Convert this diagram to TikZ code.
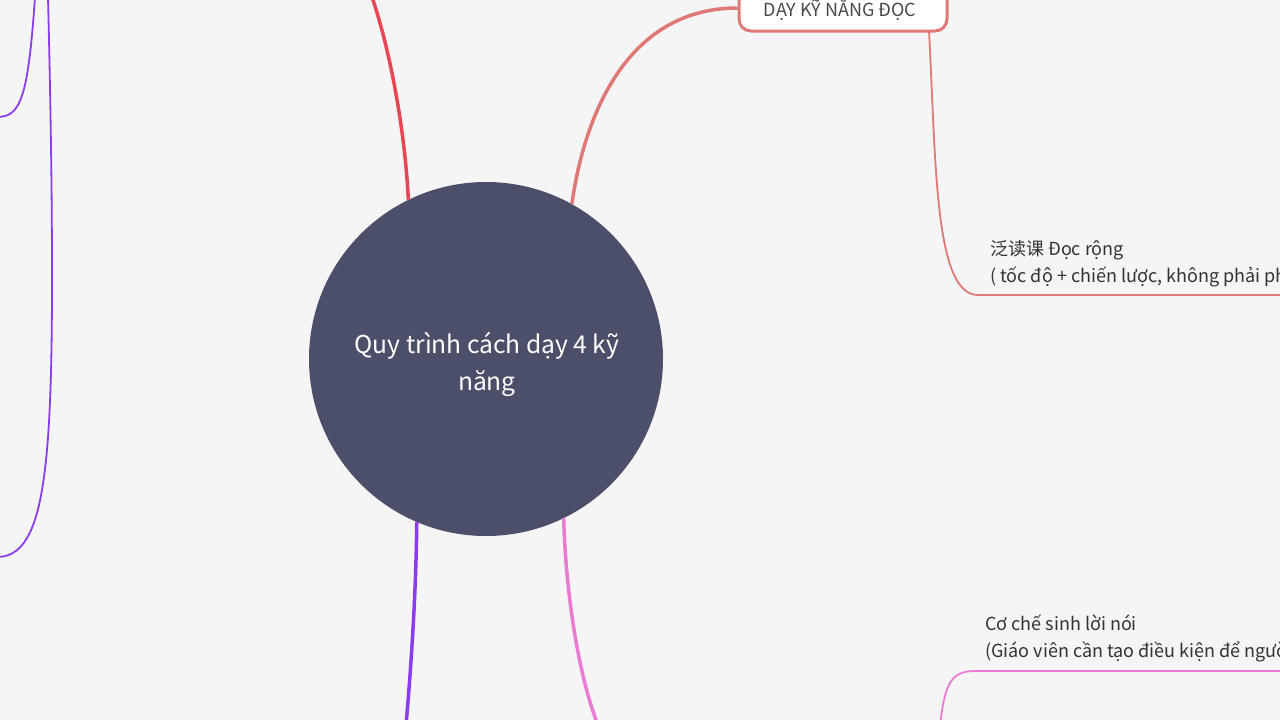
\documentclass[tikz,border=0pt]{standalone}
\usepackage{fontspec}
\setmainfont{Noto Sans CJK SC}
\definecolor{bg}{RGB}{245,245,245}
\definecolor{hubc}{RGB}{75,79,106}
\definecolor{salmon}{RGB}{224,120,120}
\definecolor{redc}{RGB}{232,70,85}
\definecolor{purp}{RGB}{140,60,240}
\definecolor{pinkc}{RGB}{235,122,210}
\definecolor{txt}{RGB}{51,51,51}
\definecolor{txtb}{RGB}{72,72,72}
\tikzset{
  hubnode/.style={circle, fill=hubc, minimum size=354pt, inner sep=0pt},
  hubtext/.style={text=white, align=center, inner sep=0pt, font=\fontsize{24.6}{37}\selectfont},
  topicnode/.style={draw=salmon, line width=3pt, fill=white, rounded corners=12pt, minimum width=208pt, minimum height=46pt, inner sep=0pt},
  topictext/.style={inner sep=0pt, text=txtb, font=\fontsize{18}{24}\selectfont},
  labelnode/.style={inner sep=0pt, align=left, text=txt, font=\fontsize{18}{27}\selectfont},
  mainbranch/.style={line width=3.5pt},
  thinbranch/.style={line width=1.8pt},
}
\begin{document}
\begin{tikzpicture}[x=1pt,y=-1pt]
\useasboundingbox (0,0) rectangle (1280,720);
\fill[bg] (0,0) rectangle (1280,720);
\begin{scope}
\clip (0,0) rectangle (1280,720);
% left purple sub-branches
\coordinate (la1) at (35,-3);
\coordinate (la2) at (-3,117);
\coordinate (lb1) at (48,-3);
\coordinate (lb2) at (52,280);
\coordinate (lb3) at (-3,557);
\draw[purp, thinbranch] (la1) .. controls (28,100) and (20,117) .. (la2);
\draw[purp, thinbranch] (lb1) .. controls (51,120) and (52,200) .. (lb2) .. controls (52,480) and (42,557) .. (lb3);

% hub
\node[hubnode] (hub) at (486,359) {};
\node[hubtext] (hublabel) at (487,364) {Quy trình cách dạy 4 kỹ\\năng};

% top topic
\node[topicnode] (read) at (843,8) {};
\node[topictext] (readlabel) at (840,10) {DẠY KỸ NĂNG ĐỌC};

% coordinates for off-canvas ends
\coordinate (redend) at (372,-3);
\coordinate (purpend) at (406,725);
\coordinate (pinkend) at (598,725);

\draw[redc, mainbranch] (hub.116) .. controls (405,130) and (390,50) .. (redend);
\draw[salmon, mainbranch] (hub.61) .. controls (585,110) and (630,8) .. (read.west);
\draw[purp, mainbranch] (hub.247) .. controls (416,600) and (410,680) .. (purpend);
\draw[pinkc, mainbranch] (hub.296) .. controls (566,600) and (580,680) .. (pinkend);

% reading sub-branch
\coordinate (r1) at (929,31);
\coordinate (r2) at (978,295);
\coordinate (r3) at (1285,295);
\draw[salmon, thinbranch] (r1) .. controls (936,160) and (934,295) .. (r2) -- (r3);
\node[labelnode, anchor=north west] (extensive) at (990,240) {泛读课 Đọc rộng\\( tốc độ + chiến lược, không phải ph};

% speaking sub-branch
\coordinate (s1) at (940,725);
\coordinate (s2) at (975,671);
\coordinate (s3) at (1285,671);
\draw[pinkc, thinbranch] (s1) .. controls (945,685) and (950,671) .. (s2) -- (s3);
\node[labelnode, anchor=north west] (speech) at (985,615) {Cơ chế sinh lời nói\\(Giáo viên cần tạo điều kiện để người};
\end{scope}
\end{tikzpicture}
\end{document}
